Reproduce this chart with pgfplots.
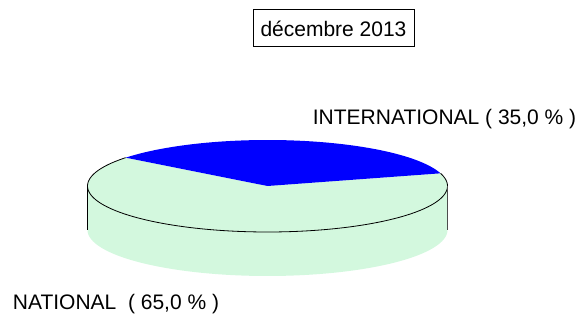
\documentclass[border=0pt]{standalone}
\usepackage{pgfplots}
\pgfplotsset{compat=1.18}
\usepackage{fontspec}
\setmainfont{Liberation Sans}
\definecolor{natgreen}{RGB}{211,248,222}
\definecolor{intblue}{RGB}{0,0,255}
% data (percent)
\def\valINT{35.0}
\def\valNAT{65.0}
% geometry (pixel-like units)
\def\cx{267.5}
\def\cy{186}
\def\rx{180}
\def\ry{46}
\def\dh{44}
\def\startang{16}
\pgfmathsetmacro{\endINT}{\startang+3.6*\valINT}
\pgfmathsetmacro{\endNAT}{\endINT+3.6*\valNAT}
\begin{document}
\begin{tikzpicture}
\begin{axis}[
  scale only axis, width=587pt, height=313pt,
  xmin=0, xmax=587, ymin=0, ymax=313, y dir=reverse,
  hide axis, clip=false,
]
\path (axis cs:0,0) rectangle (axis cs:587,313);
% side wall
\addplot[fill=natgreen, draw=none, domain=180:360, samples=90]
  ({\cx+\rx*cos(x)}, {\cy+\dh-\ry*sin(x)}) -- (axis cs:\cx+\rx,\cy) -- (axis cs:\cx-\rx,\cy) -- cycle;
% top face: NATIONAL
\addplot[fill=natgreen, draw=none, domain=\endINT:\endNAT, samples=120]
  ({\cx+\rx*cos(x)}, {\cy-\ry*sin(x)}) -- (axis cs:\cx,\cy) -- cycle;
% top face: INTERNATIONAL
\addplot[fill=intblue, draw=none, domain=\startang:\endINT, samples=90]
  ({\cx+\rx*cos(x)}, {\cy-\ry*sin(x)}) -- (axis cs:\cx,\cy) -- cycle;
% outline of the top face (visible part)
\addplot[black, line width=0.8pt, domain=\endINT:\endNAT, samples=120]
  ({\cx+\rx*cos(x)}, {\cy-\ry*sin(x)});
% vertical edges
\addplot[black, line width=0.8pt] coordinates {(87.5,186) (87.5,230)};
\addplot[black!70, line width=0.8pt] coordinates {(447.5,186) (447.5,230)};
% title box
\draw[line width=0.8pt] (axis cs:253,9) rectangle (axis cs:414,46);
\node[anchor=base, inner sep=0pt, font=\fontsize{21}{24}\selectfont] at (axis cs:333.5,36.7) {décembre 2013};
% labels
\node[anchor=base west, inner sep=0pt, font=\fontsize{21}{24}\selectfont] at (axis cs:312.7,125) {INTERNATIONAL ( 35,0 \% )};
\node[anchor=base west, inner sep=0pt, font=\fontsize{21}{24}\selectfont] at (axis cs:12.7,310) {NATIONAL\ \ ( 65,0 \% )};
\end{axis}
\end{tikzpicture}
\end{document}
